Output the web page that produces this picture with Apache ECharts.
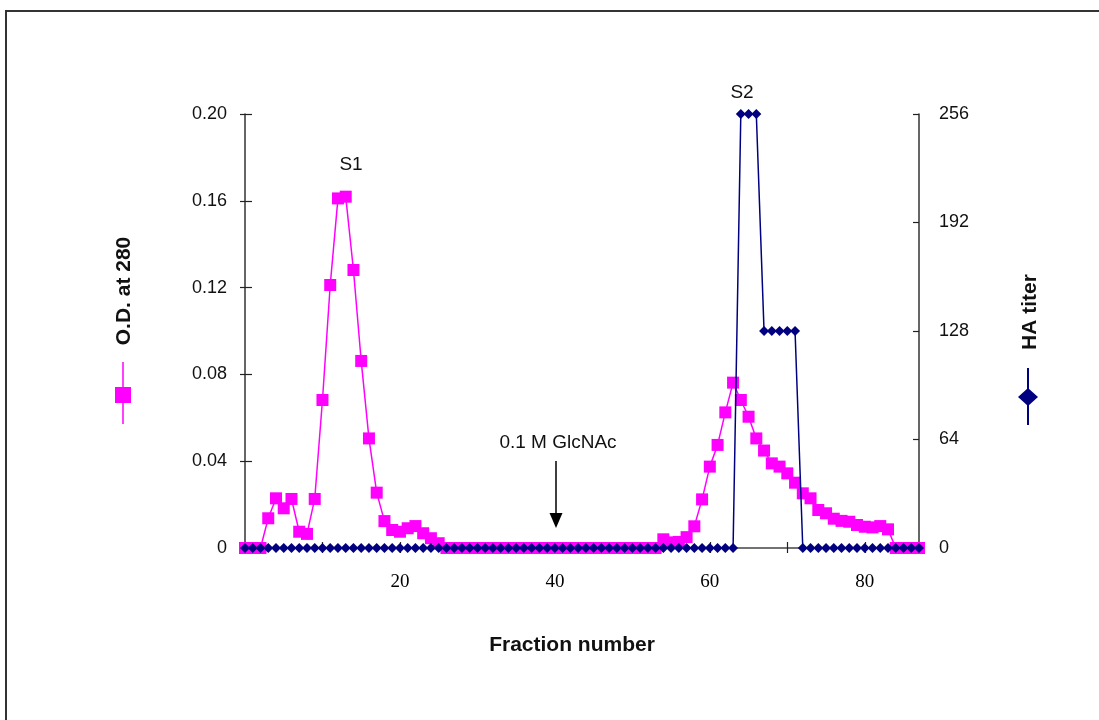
<!DOCTYPE html>
<html>
<head>
<meta charset="utf-8">
<script src="https://cdn.jsdelivr.net/npm/echarts@6/dist/echarts.min.js"></script>
<style>
html,body{margin:0;padding:0;background:#fff;}
#chart{width:1099px;height:720px;}
</style>
</head>
<body>
<div id="chart"></div>
<script>
// Fraction numbers run 0..87 (index of each value)
var odValues = [
  0, 0, 0, 0.0137, 0.0229, 0.0183, 0.0226, 0.0075, 0.0065, 0.0226,
  0.0682, 0.1212, 0.1611, 0.1619, 0.1281, 0.0862, 0.0505, 0.0255, 0.0124, 0.0083,
  0.0075, 0.0091, 0.0101, 0.0068, 0.0045, 0.0022, 0, 0, 0, 0,
  0, 0, 0, 0, 0, 0, 0, 0, 0, 0,
  0, 0, 0, 0, 0, 0, 0, 0, 0, 0,
  0, 0, 0, 0, 0.0040, 0.0026, 0.0028, 0.0050, 0.0100, 0.0224,
  0.0375, 0.0475, 0.0625, 0.0762, 0.0682, 0.0605, 0.0505, 0.0449, 0.0390, 0.0375,
  0.0344, 0.0301, 0.0252, 0.0229, 0.0175, 0.0160, 0.0135, 0.0125, 0.0121, 0.0106,
  0.0098, 0.0095, 0.0101, 0.0086, 0, 0, 0, 0
];
var haValues = [
  0, 0, 0, 0, 0, 0, 0, 0, 0, 0,
  0, 0, 0, 0, 0, 0, 0, 0, 0, 0,
  0, 0, 0, 0, 0, 0, 0, 0, 0, 0,
  0, 0, 0, 0, 0, 0, 0, 0, 0, 0,
  0, 0, 0, 0, 0, 0, 0, 0, 0, 0,
  0, 0, 0, 0, 0, 0, 0, 0, 0, 0,
  0, 0, 0, 0, 256, 256, 256, 128, 128, 128,
  128, 128, 0, 0, 0, 0, 0, 0, 0, 0,
  0, 0, 0, 0, 0, 0, 0, 0
];
var xTickLabels = [20, 40, 60, 80];
var odTicks = [0, 0.04, 0.08, 0.12, 0.16, 0.20];
var haTicks = [0, 64, 128, 192, 256];

var FONT = 'Liberation Sans, Arial, sans-serif';
var SERIF = 'Liberation Serif, Times New Roman, serif';
var TXT = '#111111';

var odData = odValues.map(function (v, i) { return [i, v]; });
var haData = haValues.map(function (v, i) { return [i, v]; });

var chart = echarts.init(document.getElementById('chart'), null, {renderer: 'canvas'});

var option = {
  backgroundColor: '#ffffff',
  animation: false,
  grid: {left: 245, right: 180, top: 114, bottom: 172, containLabel: false},
  xAxis: [
    {
      type: 'value', min: 0, max: 87, interval: 10, position: 'bottom',
      axisLine: {show: true, onZero: false, lineStyle: {color: '#444', width: 1.5}},
      axisTick: {show: true, inside: false, length: 5, lineStyle: {color: '#222', width: 1.2}},
      axisLabel: {
        show: true, margin: 25, color: '#000', fontFamily: SERIF, fontSize: 19,
        formatter: function (v) { return xTickLabels.indexOf(v) >= 0 ? String(v) : ''; }
      },
      splitLine: {show: false}
    },
    {
      type: 'value', min: 0, max: 87, interval: 10, position: 'bottom',
      axisLine: {show: false, onZero: false},
      axisTick: {show: true, inside: true, length: 6, lineStyle: {color: '#222', width: 1.2}},
      axisLabel: {show: false},
      splitLine: {show: false}
    }
  ],
  yAxis: [
    {
      type: 'value', min: odTicks[0], max: odTicks[odTicks.length - 1], interval: 0.04, position: 'left',
      axisLine: {show: true, onZero: false, lineStyle: {color: '#333', width: 1.5}},
      axisTick: {show: true, inside: false, length: 5, lineStyle: {color: '#222', width: 1.2}},
      axisLabel: {
        margin: 18, color: TXT, fontFamily: FONT, fontSize: 18,
        formatter: function (v) { return Math.abs(v) < 1e-9 ? '0' : v.toFixed(2); }
      },
      splitLine: {show: false}
    },
    {
      type: 'value', min: haTicks[0], max: haTicks[haTicks.length - 1], interval: 64, position: 'right',
      axisLine: {show: true, onZero: false, lineStyle: {color: '#333', width: 1.5}},
      axisTick: {show: true, inside: true, length: 6, lineStyle: {color: '#222', width: 1.2}},
      axisLabel: {margin: 20, color: TXT, fontFamily: FONT, fontSize: 18},
      splitLine: {show: false}
    },
    {
      type: 'value', min: odTicks[0], max: odTicks[odTicks.length - 1], interval: 0.04, position: 'left',
      axisLine: {show: false, onZero: false},
      axisTick: {show: true, inside: true, length: 7, lineStyle: {color: '#222', width: 1.2}},
      axisLabel: {show: false},
      splitLine: {show: false}
    }
  ],
  series: [
    {
      name: 'O.D. at 280', type: 'line', xAxisIndex: 0, yAxisIndex: 0, data: odData,
      symbol: 'rect', symbolSize: 12, showAllSymbol: true, z: 2,
      itemStyle: {color: '#ff00ff'},
      lineStyle: {color: '#ff00ff', width: 1.5}
    },
    {
      name: 'HA titer', type: 'line', xAxisIndex: 0, yAxisIndex: 1, data: haData,
      symbol: 'diamond', symbolSize: [10, 10], showAllSymbol: true, z: 3,
      itemStyle: {color: '#000080'},
      lineStyle: {color: '#000080', width: 1.5}
    }
  ],
  graphic: [
    // outer frame
    {type: 'rect', shape: {x: 6, y: 11, width: 1200, height: 800}, style: {fill: 'none', stroke: '#333', lineWidth: 2}, silent: true},
    // peak labels and annotation
    {type: 'text', x: 351, y: 165, style: {text: 'S1', font: '19px ' + FONT, fill: TXT, textAlign: 'center', textVerticalAlign: 'middle'}},
    {type: 'text', x: 742, y: 93, style: {text: 'S2', font: '19px ' + FONT, fill: TXT, textAlign: 'center', textVerticalAlign: 'middle'}},
    {type: 'text', x: 558, y: 443, style: {text: '0.1 M GlcNAc', font: '19px ' + FONT, fill: TXT, textAlign: 'center', textVerticalAlign: 'middle'}},
    {type: 'line', shape: {x1: 556, y1: 461, x2: 556, y2: 516}, style: {stroke: '#000', lineWidth: 1.5}},
    {type: 'polygon', shape: {points: [[549.5, 513], [562.5, 513], [556, 528]]}, style: {fill: '#000'}},
    // axis title
    {type: 'text', x: 572, y: 645, style: {text: 'Fraction number', font: 'bold 21px ' + FONT, fill: TXT, textAlign: 'center', textVerticalAlign: 'middle'}},
    // left legend (vertical)
    {type: 'text', x: 124, y: 291, rotation: Math.PI / 2, style: {text: 'O.D. at 280', font: 'bold 21px ' + FONT, fill: TXT, textAlign: 'center', textVerticalAlign: 'middle'}},
    {type: 'line', shape: {x1: 123, y1: 362, x2: 123, y2: 424}, style: {stroke: '#ff00ff', lineWidth: 1.5}},
    {type: 'rect', shape: {x: 115, y: 387, width: 16, height: 16}, style: {fill: '#ff00ff'}},
    // right legend (vertical)
    {type: 'text', x: 1030, y: 312, rotation: Math.PI / 2, style: {text: 'HA titer', font: 'bold 21px ' + FONT, fill: TXT, textAlign: 'center', textVerticalAlign: 'middle'}},
    {type: 'line', shape: {x1: 1028, y1: 368, x2: 1028, y2: 425}, style: {stroke: '#000080', lineWidth: 2}},
    {type: 'polygon', shape: {points: [[1028, 388], [1038, 397], [1028, 406], [1018, 397]]}, style: {fill: '#000080'}}
  ]
};
chart.setOption(option);
</script>
</body>
</html>
